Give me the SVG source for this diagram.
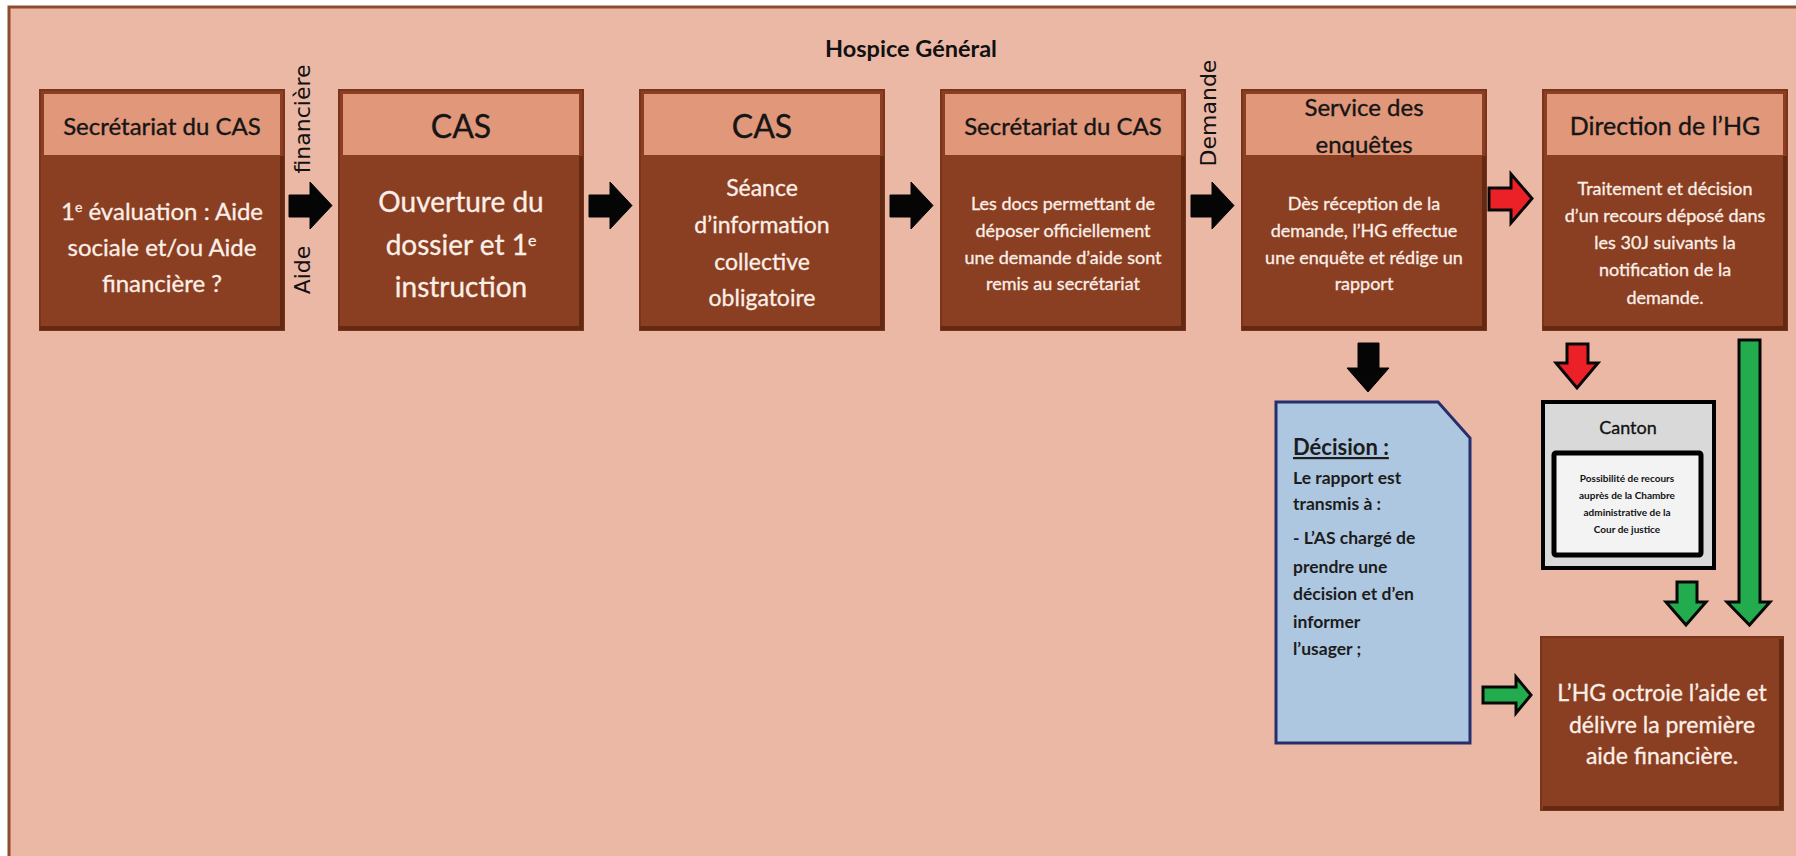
<svg xmlns="http://www.w3.org/2000/svg" width="1796" height="856" viewBox="0 0 1796 856">
<defs>
<style>
text{font-family:Lato,"Open Sans","Liberation Sans",sans-serif}
.box{fill:#8B3F22;stroke:#7A3419;stroke-width:2}
.shadow{fill:none;stroke:#632912;stroke-width:4}
.hdr{fill:#E1977A}
.ht{fill:#151515;stroke:#151515;stroke-width:0.35;font-size:24px;text-anchor:middle}
.big{fill:#151515;stroke:#151515;stroke-width:0.35;font-size:32px;text-anchor:middle}
.bt{fill:#FBEFE8;stroke:#FBEFE8;stroke-width:0.3;text-anchor:middle}
.black{fill:#050505;stroke:#050505;stroke-width:1}
.red{fill:#EC2027;stroke:#080808;stroke-width:3;stroke-linejoin:miter}
.green{fill:#22AC4E;stroke:#080808;stroke-width:3;stroke-linejoin:miter}
.rot{fill:#111;font-family:"DejaVu Sans",sans-serif;font-size:22px;text-anchor:middle}
.dt{fill:#1C1C1C;font-size:17.5px;font-weight:bold}
.ct{fill:#111;font-size:10px;font-weight:bold;text-anchor:middle}
</style>
</defs>
<rect x="0" y="0" width="1796" height="856" fill="#FFFFFF"/>
<rect x="9" y="7" width="1800" height="860" fill="#ECB8A6" stroke="#8E4B2E" stroke-width="3"/>
<text x="911" y="57" style="font-size:23.5px" font-weight="bold" fill="#111" text-anchor="middle">Hospice Général</text>

<g id="n1">
<rect class="box" x="40" y="90" width="244" height="240"/>
<polyline class="shadow" points="282,156 282,328 40,328"/>
<rect class="hdr" x="44" y="94" width="236" height="61"/>
<text class="ht" x="162" y="135">Secrétariat du CAS</text>
<text class="bt" font-size="24" x="162" y="220">1<tspan font-size="14" baseline-shift="super">e</tspan> évaluation : Aide</text>
<text class="bt" font-size="24" x="162" y="256">sociale et/ou Aide</text>
<text class="bt" font-size="24" x="162" y="292">financière ?</text>
</g>

<g id="n2">
<rect class="box" x="339" y="90" width="244" height="240"/>
<polyline class="shadow" points="581,156 581,328 339,328"/>
<rect class="hdr" x="343" y="94" width="236" height="61"/>
<text class="big" x="461" y="138">CAS</text>
<text class="bt" font-size="28" x="461" y="212">Ouverture du</text>
<text class="bt" font-size="28" x="461" y="255">dossier et 1<tspan font-size="16" baseline-shift="super">e</tspan></text>
<text class="bt" font-size="28" x="461" y="297">instruction</text>
</g>

<g id="n3">
<rect class="box" x="640" y="90" width="244" height="240"/>
<polyline class="shadow" points="882,156 882,328 640,328"/>
<rect class="hdr" x="644" y="94" width="236" height="61"/>
<text class="big" x="762" y="138">CAS</text>
<text class="bt" font-size="23" x="762" y="196">Séance</text>
<text class="bt" font-size="23" x="762" y="233">d’information</text>
<text class="bt" font-size="23" x="762" y="270">collective</text>
<text class="bt" font-size="23" x="762" y="306">obligatoire</text>
</g>

<g id="n4">
<rect class="box" x="941" y="90" width="244" height="240"/>
<polyline class="shadow" points="1183,156 1183,328 941,328"/>
<rect class="hdr" x="945" y="94" width="236" height="61"/>
<text class="ht" x="1063" y="135">Secrétariat du CAS</text>
<text class="bt" font-size="18" x="1063" y="210">Les docs permettant de</text>
<text class="bt" font-size="18" x="1063" y="237">déposer officiellement</text>
<text class="bt" font-size="18" x="1063" y="264">une demande d’aide sont</text>
<text class="bt" font-size="18" x="1063" y="290">remis au secrétariat</text>
</g>

<g id="n5">
<rect class="box" x="1242" y="90" width="244" height="240"/>
<polyline class="shadow" points="1484,156 1484,328 1242,328"/>
<rect class="hdr" x="1246" y="94" width="236" height="61"/>
<text class="ht" x="1364" y="116">Service des</text>
<text class="ht" x="1364" y="153">enquêtes</text>
<text class="bt" font-size="18" x="1364" y="210">Dès réception de la</text>
<text class="bt" font-size="18" x="1364" y="237">demande, l’HG effectue</text>
<text class="bt" font-size="18" x="1364" y="264">une enquête et rédige un</text>
<text class="bt" font-size="18" x="1364" y="290">rapport</text>
</g>

<g id="n6">
<rect class="box" x="1543" y="90" width="244" height="240"/>
<polyline class="shadow" points="1785,156 1785,328 1543,328"/>
<rect class="hdr" x="1547" y="94" width="236" height="61"/>
<text class="ht" style="font-size:25px" x="1665" y="135">Direction de l’HG</text>
<text class="bt" font-size="18" x="1665" y="195">Traitement et décision</text>
<text class="bt" font-size="18" x="1665" y="222">d’un recours déposé dans</text>
<text class="bt" font-size="18" x="1665" y="249">les 30J suivants la</text>
<text class="bt" font-size="18" x="1665" y="276">notification de la</text>
<text class="bt" font-size="18" x="1665" y="304">demande.</text>
</g>

<g id="decision">
<path d="M1276,402 H1438 L1470,438 V743 H1276 Z" fill="#ADC7E0" stroke="#262F6B" stroke-width="3"/>
<text class="dt" x="1293" y="455" style="font-size:22px" text-decoration="underline">Décision :</text>
<text class="dt" x="1293" y="484">Le rapport est</text>
<text class="dt" x="1293" y="510">transmis à :</text>
<text class="dt" x="1293" y="544">- L’AS chargé de</text>
<text class="dt" x="1293" y="573">prendre une</text>
<text class="dt" x="1293" y="600">décision et d’en</text>
<text class="dt" x="1293" y="628">informer</text>
<text class="dt" x="1293" y="655">l’usager ;</text>
</g>

<g id="canton">
<rect x="1543" y="402" width="171" height="166" fill="#D9D9D9" stroke="#000" stroke-width="4"/>
<text x="1628" y="434" font-size="18" fill="#111" stroke="#111" stroke-width="0.3" text-anchor="middle">Canton</text>
<rect x="1554" y="453" width="147" height="102" rx="2" fill="#F3F3F3" stroke="#000" stroke-width="5"/>
<text class="ct" x="1627" y="482">Possibilité de recours</text>
<text class="ct" x="1627" y="499">auprès de la Chambre</text>
<text class="ct" x="1627" y="516">administrative de la</text>
<text class="ct" x="1627" y="533">Cour de justice</text>
</g>

<g id="final">
<rect class="box" x="1541" y="637" width="242" height="173"/>
<polyline class="shadow" points="1781,639 1781,808 1543,808"/>
<text class="bt" font-size="23" x="1662" y="701">L’HG octroie l’aide et</text>
<text class="bt" font-size="23" x="1662" y="733">délivre la première</text>
<text class="bt" font-size="23" x="1662" y="764">aide financière.</text>
</g>

<g id="connectors">
<polygon class="black" points="289,195 310,195 310,182 332,205.5 310,229 310,217 289,217"/>
<polygon class="black" points="589,195 610,195 610,182 632,205.5 610,229 610,217 589,217"/>
<polygon class="black" points="890,195 911,195 911,182 933,205.5 911,229 911,217 890,217"/>
<polygon class="black" points="1191,195 1212,195 1212,182 1234,205.5 1212,229 1212,217 1191,217"/>
<polygon class="red" points="1489,188 1511,188 1511,174 1532,198.5 1511,223 1511,210 1489,210"/>
<polygon class="black" points="1358,343 1379,343 1379,368 1389,368 1368,392 1347,368 1358,368"/>
<polygon class="red" points="1567,344 1588,344 1588,363 1598,363 1577,388 1556,363 1567,363"/>
<polygon class="green" points="1739,340 1760,340 1760,602 1770,602 1749.5,625 1727,602 1739,602"/>
<polygon class="green" points="1677,582 1697,582 1697,602 1706,602 1686,625 1666,602 1677,602"/>
<polygon class="green" points="1483,687 1516,687 1516,677 1531,695 1516,713 1516,703 1483,703"/>
<text class="rot" transform="translate(310,119) rotate(-90)">financière</text>
<text class="rot" transform="translate(310,270) rotate(-90)">Aide</text>
<text class="rot" transform="translate(1216,113) rotate(-90)">Demande</text>
</g>
</svg>
